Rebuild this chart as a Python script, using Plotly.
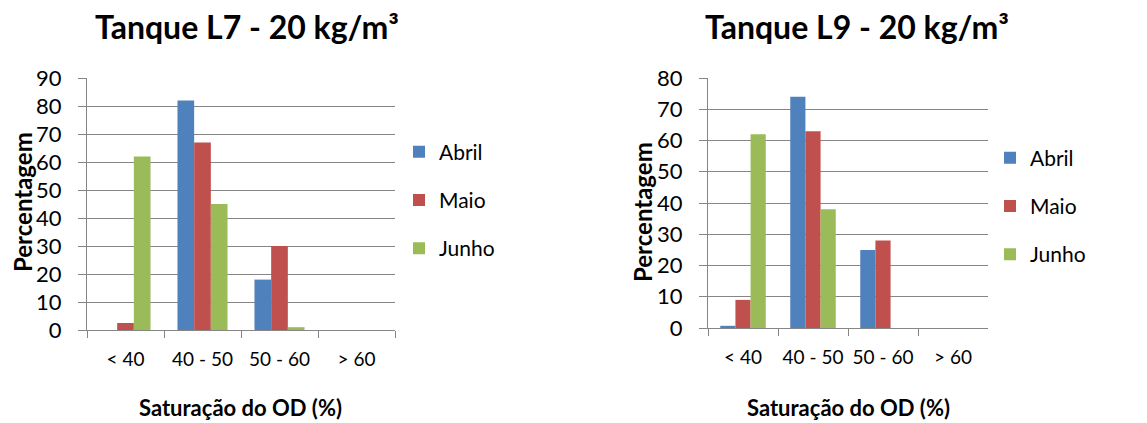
import plotly.graph_objects as go

categorias = ["< 40", "40 - 50", "50 - 60", "> 60"]
meses = ["Abril", "Maio", "Junho"]
cores = ["#4F81BD", "#C0504D", "#9BBB59"]

# Tanque L7
l7_abril = [0, 82, 18, 0]
l7_maio = [2.5, 67, 30, 0]
l7_junho = [62, 45, 1, 0]

# Tanque L9
l9_abril = [0.7, 74, 25, 0]
l9_maio = [9, 63, 28, 0]
l9_junho = [62, 38, 0, 0]

# a pagina tem 8px de margem no body
MARG = 8
W, H = 1147 - MARG, 423 - MARG
FONTE = "Lato"
GRELHA = "#868686"

fig = go.Figure()

for nome, cor, vals in zip(meses, cores, [l7_abril, l7_maio, l7_junho]):
    fig.add_trace(go.Bar(x=categorias, y=vals, name=nome, marker_color=cor,
                         marker_line_width=0, xaxis="x", yaxis="y",
                         legend="legend", legendgroup="a" + nome))
for nome, cor, vals in zip(meses, cores, [l9_abril, l9_maio, l9_junho]):
    fig.add_trace(go.Bar(x=categorias, y=vals, name=nome, marker_color=cor,
                         marker_line_width=0, xaxis="x2", yaxis="y2",
                         legend="legend2", legendgroup="b" + nome))

def px(x):
    return (x - MARG) / W

def py(y):
    return (H - (y - MARG)) / H

eixo_x = dict(type="category", showgrid=False, showline=True, linecolor=GRELHA,
              linewidth=1, ticks="outside", tickson="boundaries", ticklen=7,
              tickcolor=GRELHA, ticklabelstandoff=12,
              tickfont=dict(family=FONTE, size=19, color="black"),
              fixedrange=True)
eixo_y = dict(showgrid=True, gridcolor=GRELHA, gridwidth=1, dtick=10,
              showline=True, linecolor=GRELHA, linewidth=1, ticks="outside",
              ticklen=8, tickcolor=GRELHA, zeroline=False, ticklabelstandoff=12,
              tickfont=dict(family=FONTE, size=22, color="black"))

legenda = dict(font=dict(family=FONTE, size=21, color="black"), tracegroupgap=18,
               bgcolor="rgba(0,0,0,0)", xanchor="left", yanchor="middle")

fig.update_layout(
    width=W, height=H, margin=dict(l=0, r=0, t=0, b=0, autoexpand=False),
    plot_bgcolor="white", paper_bgcolor="white",
    barmode="group", bargap=0.35, bargroupgap=0,
    xaxis=dict(eixo_x, domain=[px(87), px(395)], anchor="y"),
    yaxis=dict(eixo_y, domain=[py(330), py(78)], range=[0, 90], anchor="x"),
    xaxis2=dict(eixo_x, domain=[px(708), px(988)], anchor="y2"),
    yaxis2=dict(eixo_y, domain=[py(328), py(78)], range=[0, 80], anchor="x2"),
    legend=dict(legenda, x=px(399), y=py(200)),
    legend2=dict(legenda, x=px(990), y=py(206)),
    showlegend=True,
)

titulos = [
    ("Tanque L7 - 20 kg/m³", 247, 27, 32, 0),
    ("Tanque L9 - 20 kg/m³", 857, 27, 32, 0),
    ("Saturação do OD (%)", 240, 407, 22, 0),
    ("Saturação do OD (%)", 848, 407, 22, 0),
    ("Percentagem", 22, 202, 24, -90),
    ("Percentagem", 643, 212, 24, -90),
]
for texto, x, y, tam, ang in titulos:
    fig.add_annotation(text="<b>%s</b>" % texto, x=px(x), y=py(y), xref="paper",
                       yref="paper", showarrow=False, textangle=ang,
                       xanchor="center", yanchor="middle",
                       font=dict(family=FONTE, size=tam, color="black"))

fig.write_html("out.html")
